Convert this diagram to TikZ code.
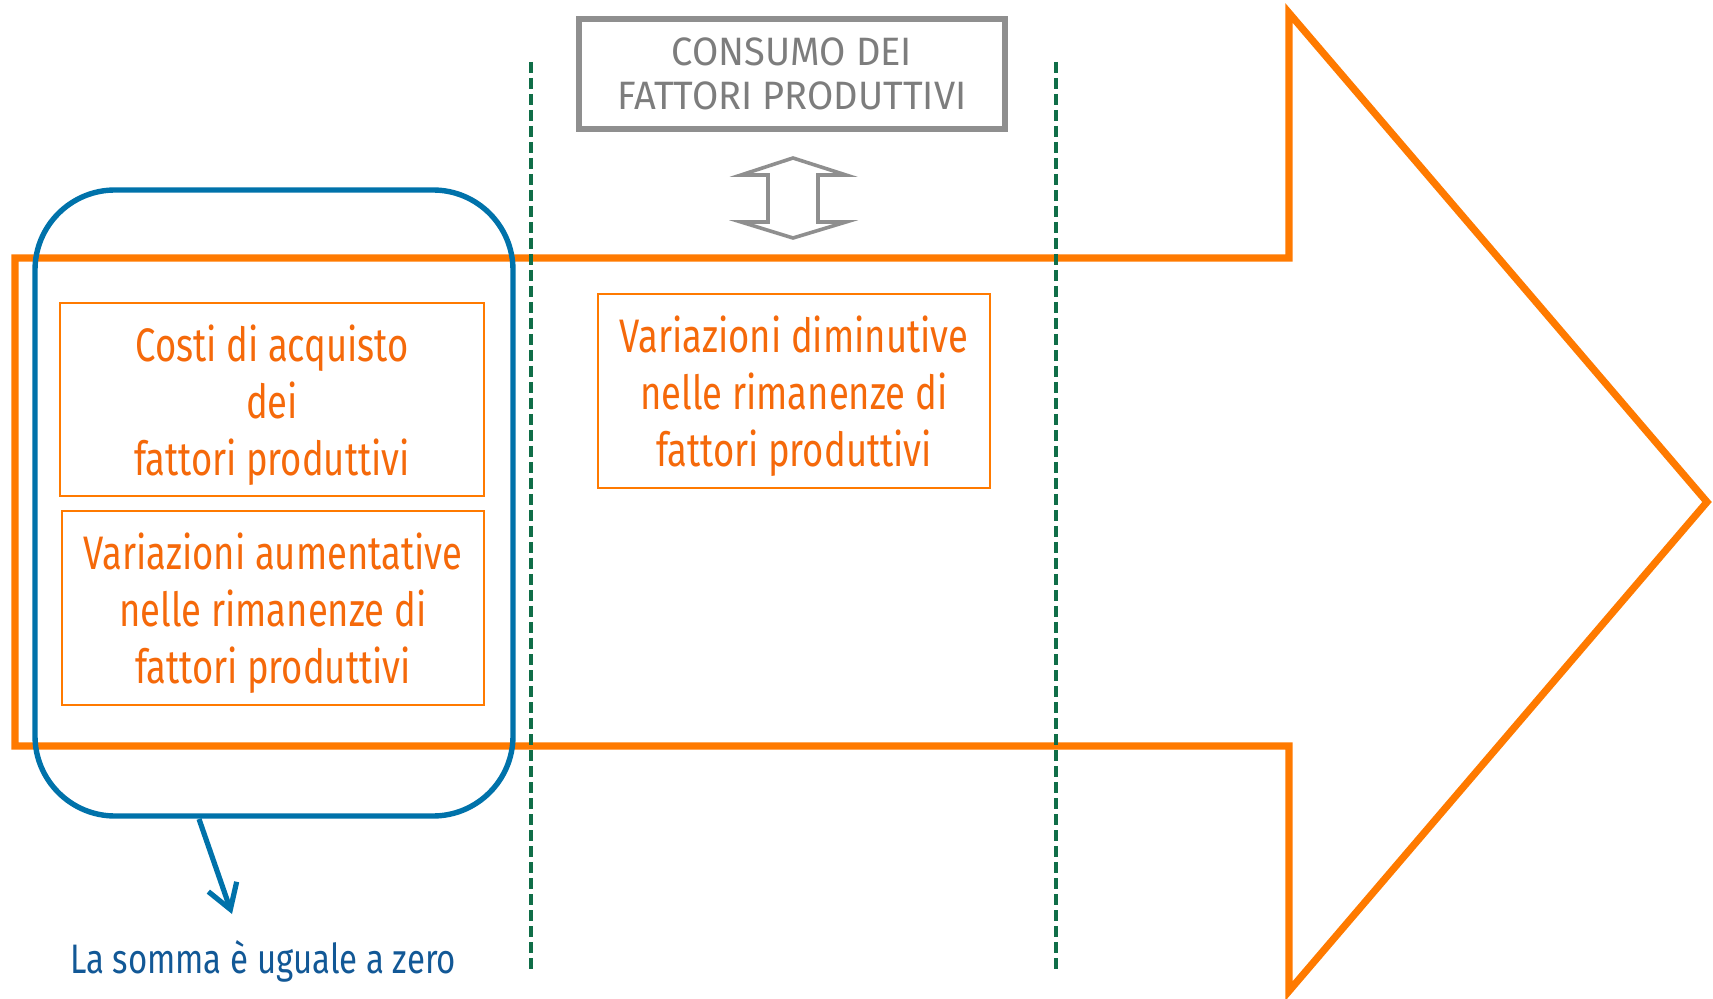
\documentclass[tikz,border=0pt]{standalone}
\usepackage{fontspec}
\setmainfont{Fira Sans}
\newfontfamily\condfont{Fira Sans}[FakeStretch=0.775]
\newfontfamily\bluefont{Fira Sans}[FakeStretch=0.8]
\newfontfamily\grayfont{Fira Sans}[FakeStretch=0.96]
\usetikzlibrary{arrows.meta}
\definecolor{bigorange}{RGB}{255,122,0}
\definecolor{txtorange}{RGB}{245,105,10}
\definecolor{grpblue}{RGB}{0,114,170}
\definecolor{txtblue}{RGB}{18,88,150}
\definecolor{dgreen}{RGB}{16,110,72}
\definecolor{boxgray}{RGB}{143,143,143}
\definecolor{txtgray}{RGB}{125,125,125}
\tikzset{
  bigarrow/.style={draw=bigorange, line width=3.6pt, line join=miter},
  obox/.style={draw=bigorange, line width=1.3pt, fill=white, inner sep=0pt},
  otext/.style={text=txtorange, align=center,
     font=\condfont\fontsize{23.5}{28.5}\selectfont, inner sep=0pt},
  gbox/.style={draw=boxgray, line width=2.6pt, text=txtgray, align=center,
     font=\grayfont\fontsize{19.8}{22}\selectfont, inner sep=0pt,
     minimum width=213pt, minimum height=55pt},
  grpbox/.style={draw=grpblue, line width=2.7pt, rounded corners=40pt,
     minimum width=239pt, minimum height=313pt, inner sep=0pt},
  gdash/.style={draw=dgreen, line width=2.1pt, dash pattern=on 5.5pt off 2.5pt},
  dblarrow/.style={draw=boxgray, line width=1.8pt, line join=miter},
  sumarrow/.style={draw=grpblue, line width=2.6pt, -{Straight Barb[length=12pt, width=15pt, line width=2.6pt]}},
  sumtext/.style={text=txtblue, font=\bluefont\fontsize{20.6}{24}\selectfont, inner sep=0pt}
}
\begin{document}
\begin{tikzpicture}[x=0.5pt,y=-0.5pt]
\useasboundingbox (0,0) rectangle (1713,999);
% big orange arrow
\draw[bigarrow] (15,258) -- (1289,258) -- (1289,13) -- (1707,502) -- (1289,991) -- (1289,746) -- (15,746) -- cycle;
% orange boxes
\node[obox, minimum width=212pt, minimum height=96.5pt] (costi) at (272,399.5) {};
\node[otext] (costiT) at ([yshift=-2.8pt]costi.center) {Costi di acquisto\\dei\\fattori produttivi};
\node[obox, minimum width=211pt, minimum height=97pt] (aument) at (273,608) {};
\node[otext] (aumentT) at ([yshift=-2.8pt]aument.center) {Variazioni aumentative\\nelle rimanenze di\\fattori produttivi};
\node[obox, minimum width=196pt, minimum height=97pt] (dimin) at (794,391) {};
\node[otext] (diminT) at ([yshift=-2.8pt]dimin.center) {Variazioni diminutive\\nelle rimanenze di\\fattori produttivi};
% gray box
\node[gbox] (consumo) at (792,74) {CONSUMO DEI\\FATTORI PRODUTTIVI};
% gray double arrow
\draw[dblarrow] (793,158) -- (846,175) -- (818,175) -- (818,222) -- (846,222) -- (793,238)
  -- (741,222) -- (768,222) -- (768,175) -- (741,175) -- cycle;
% blue group
\node[grpbox] (grp) at (274,503) {};
% green dashed lines
\coordinate (g1t) at (531,62); \coordinate (g1b) at (531,969);
\coordinate (g2t) at (1056,62); \coordinate (g2b) at (1056,969);
\draw[gdash] (g1t) -- (g1b);
\draw[gdash] (g2t) -- (g2b);
% sum arrow and text
\node[sumtext] (sum) at (263,961) {La somma è uguale a zero};
\coordinate (sa) at (199,819);
\coordinate (sb) at (232,914);
\draw[sumarrow] (sa) -- (sb);
\end{tikzpicture}
\end{document}
